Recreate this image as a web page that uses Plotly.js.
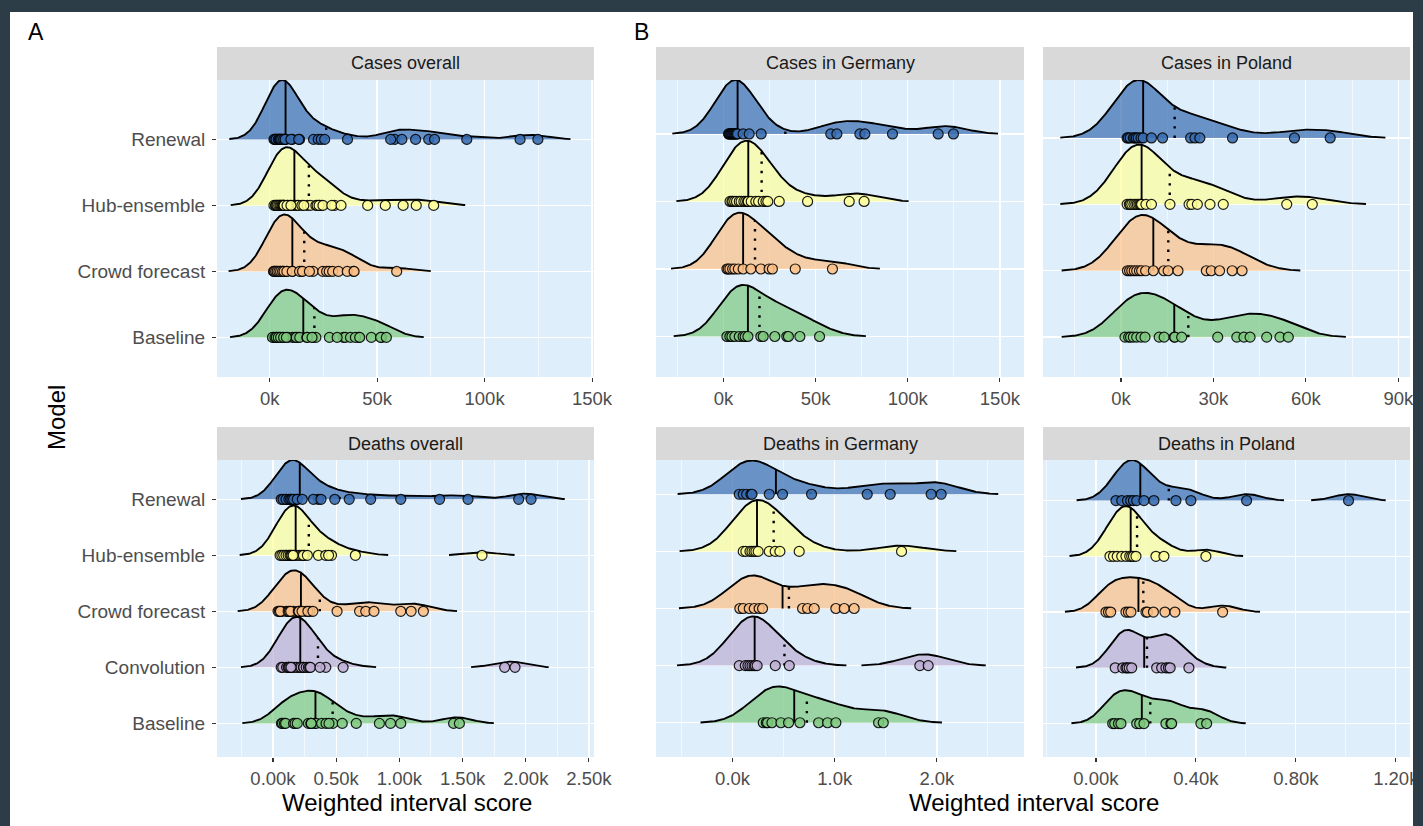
<!DOCTYPE html>
<html><head><meta charset="utf-8">
<script src="https://cdn.plot.ly/plotly-3.0.1.min.js"></script>
<style>html,body{margin:0;padding:0;background:#fff;}#chart{width:1423px;height:826px;}</style>
</head><body><div id="chart"></div>
<script>
// ---------------- data (weighted interval scores) ----------------
const casesModels  = ['Baseline', 'Crowd forecast', 'Hub-ensemble', 'Renewal'];              // bottom -> top
const deathsModels = ['Baseline', 'Convolution', 'Crowd forecast', 'Hub-ensemble', 'Renewal'];

const casesGermanyRenewal  = [2700, 3000, 3500, 4000, 4500, 5000, 5500, 6000, 6500, 7000, 7600, 10600, 13900, 20400, 58200, 61500, 74000, 76700, 91700, 116500, 124800];
const casesGermanyHub      = [3500, 4500, 5000, 6000, 7000, 8500, 9500, 11000, 12000, 13000, 13400, 15000, 17500, 19000, 21500, 23000, 24000, 30200, 45600, 68200, 76300];
const casesGermanyCrowd    = [1800, 2500, 3400, 4900, 6100, 8000, 10600, 14800, 20200, 24700, 26500, 38900, 59100];
const casesGermanyBaseline = [1800, 3400, 4500, 6100, 8500, 10600, 11700, 13200, 20200, 21500, 27800, 34300, 35200, 41400, 52100];

const casesPolandRenewal  = [2000, 2400, 3000, 4000, 4500, 5000, 5600, 6500, 7200, 9900, 13500, 22600, 24000, 25600, 36200, 56300, 67900];
const casesPolandHub      = [2000, 2700, 3000, 3500, 4200, 4800, 5300, 5800, 6200, 6500, 6700, 8100, 9900, 15900, 22100, 23000, 24800, 28900, 33200, 53800, 62100];
const casesPolandCrowd    = [2100, 2800, 3500, 4300, 5100, 6000, 6700, 8000, 10500, 13900, 15300, 18500, 27700, 29300, 32000, 36100, 39300];
const casesPolandBaseline = [1300, 2500, 3100, 4000, 5100, 6500, 7800, 12400, 14000, 17300, 17500, 19700, 31400, 37600, 39900, 41900, 47300, 51600, 54300];

const deathsGermanyRenewal    = [65, 104, 137, 179, 190, 359, 489, 773, 1318, 1543, 1944, 2042];
const deathsGermanyHub        = [104, 130, 170, 189, 210, 228, 250, 359, 417, 463, 652, 1654];
const deathsGermanyCrowd      = [71, 104, 163, 212, 260, 293, 685, 734, 799, 1011, 1093, 1190];
const deathsGermanyConvolution= [65, 124, 150, 170, 190, 210, 222, 240, 418, 555, 1833, 1915];
const deathsGermanyBaseline   = [300, 330, 342, 385, 473, 548, 659, 842, 930, 1011, 1429, 1475];

const deathsPolandRenewal     = [80, 103, 126, 139, 150, 163, 192, 232, 320, 380, 603, 1011];
const deathsPolandHub         = [56, 70, 85, 103, 120, 135, 143, 150, 160, 240, 272, 440];
const deathsPolandCrowd       = [40, 50, 59, 120, 130, 140, 200, 206, 230, 276, 316, 507];
const deathsPolandConvolution = [77, 107, 120, 125, 133, 143, 243, 263, 280, 290, 297, 372];
const deathsPolandBaseline    = [67, 75, 90, 100, 163, 175, 192, 280, 300, 303, 420, 443];

const casesTicks   = [0, 50000, 100000, 150000];
const casesTickTxt = ['0k', '50k', '100k', '150k'];
const casesPlTicks   = [0, 30000, 60000, 90000];
const casesPlTickTxt = ['0k', '30k', '60k', '90k'];
const deathsTicks    = [0, 500, 1000, 1500, 2000, 2500];
const deathsTickTxt  = ['0.00k', '0.50k', '1.00k', '1.50k', '2.00k', '2.50k'];
const deathsDeTicks  = [0, 1000, 2000];
const deathsDeTickTxt= ['0.0k', '1.0k', '2.0k'];
const deathsPlTicks  = [0, 400, 800, 1200];
const deathsPlTickTxt= ['0.00k', '0.40k', '0.80k', '1.20k'];

// ---------------- styling ----------------
const FONT = 'Liberation Sans, Arial, Helvetica, sans-serif';
const W = 1423, H = 826;
const modelColor = {
  'Renewal': '#386CB0', 'Hub-ensemble': '#FFFF99', 'Crowd forecast': '#FDC086',
  'Convolution': '#BEAED4', 'Baseline': '#7FC97F'
};
function rgba(hex, a) {
  const n = parseInt(hex.slice(1), 16);
  return 'rgba(' + (n >> 16 & 255) + ',' + (n >> 8 & 255) + ',' + (n & 255) + ',' + a + ')';
}

// ---------------- statistics ----------------
const mean = a => a.reduce((s, v) => s + v, 0) / a.length;
function sd(a) { const m = mean(a); return Math.sqrt(a.reduce((s, v) => s + (v - m) * (v - m), 0) / (a.length - 1)); }
function q7(s, p) { const h = (s.length - 1) * p, lo = Math.floor(h), hi = Math.ceil(h); return s[lo] + (h - lo) * (s[hi] - s[lo]); }
function median(a) { return q7(a.slice().sort((x, y) => x - y), 0.5); }
function bwNrd0(a) {
  const s = a.slice().sort((x, y) => x - y);
  let lo = Math.min(sd(a), (q7(s, 0.75) - q7(s, 0.25)) / 1.34);
  if (!(lo > 0)) lo = sd(a) || 1;
  return 0.9 * lo * Math.pow(a.length, -0.2);
}
function kdeAt(a, bw, x) {
  let s = 0;
  for (const v of a) { const z = (x - v) / bw; s += Math.exp(-0.5 * z * z); }
  return s / (a.length * bw * Math.sqrt(2 * Math.PI));
}

// ---------------- panel builder ----------------
const traces = [];
const layout = {
  width: W, height: H, margin: {l: 0, r: 0, t: 0, b: 0},
  paper_bgcolor: '#ffffff', plot_bgcolor: '#DEEEFB', showlegend: false,
  font: {family: FONT}, shapes: [], annotations: []
};

function buildPanel(n, title, models, series, px, py, xrange, ticks, tickTxt, minorTicks, showY) {
  const xa = 'x' + (n === 1 ? '' : n), ya = 'y' + (n === 1 ? '' : n);
  const bw = mean(series.map(bwNrd0));
  const all = [].concat(...series);
  const lo = Math.min(...all) - 3 * bw, hi = Math.max(...all) + 3 * bw;
  const N = 512, grid = [];
  for (let i = 0; i < N; i++) grid.push(lo + (hi - lo) * i / (N - 1));
  const dens = series.map(v => grid.map(x => kdeAt(v, bw, x)));
  const maxD = Math.max(...dens.map(d => Math.max(...d)));
  const sc = 0.9 / maxD, thr = 0.005 * maxD;
  let top = models.length - 1 + 0.6;
  const pts = [];
  series.forEach((vals, i) => {
    const col = modelColor[models[i]];
    const d = dens[i];
    top = Math.max(top, i + Math.max(...d) * sc);
    let seg = [];
    const segs = [];
    for (let k = 0; k < N; k++) {
      if (d[k] >= thr) seg.push(k); else if (seg.length) { segs.push(seg); seg = []; }
    }
    if (seg.length) segs.push(seg);
    segs.forEach(s => {
      const xs = s.map(k => grid[k]), ys = s.map(k => i + d[k] * sc);
      traces.push({type: 'scatter', mode: 'lines', xaxis: xa, yaxis: ya, hoverinfo: 'skip',
        x: xs.concat([xs[xs.length - 1], xs[0]]), y: ys.concat([i, i]),
        fill: 'toself', fillcolor: rgba(col, 0.7), line: {width: 0}});
      traces.push({type: 'scatter', mode: 'lines', xaxis: xa, yaxis: ya, hoverinfo: 'skip',
        x: xs, y: ys, line: {color: '#000', width: 1.9}});
    });
    const md = median(vals), mn = mean(vals);
    traces.push({type: 'scatter', mode: 'lines', xaxis: xa, yaxis: ya, hoverinfo: 'skip',
      x: [md, md], y: [i, i + kdeAt(vals, bw, md) * sc], line: {color: '#000', width: 1.9}});
    traces.push({type: 'scatter', mode: 'lines', xaxis: xa, yaxis: ya, hoverinfo: 'skip',
      x: [mn, mn], y: [i, i + kdeAt(vals, bw, mn) * sc], line: {color: '#000', width: 2.4, dash: '2.4px,7px'}});
    pts.push({type: 'scatter', mode: 'markers', xaxis: xa, yaxis: ya, hoverinfo: 'skip',
      x: vals, y: vals.map(() => i),
      marker: {size: 10, color: col, opacity: 0.88, line: {color: '#000', width: 1.2}}});
  });
  traces.push(...pts);

  const [x0, x1] = px, [y0, y1] = py;
  layout[xa === 'x' ? 'xaxis' : 'xaxis' + n] = {
    domain: [x0 / W, x1 / W], anchor: ya, range: xrange, tickmode: 'array', tickvals: ticks, ticktext: tickTxt,
    showgrid: true, gridcolor: '#ffffff', gridwidth: 1.3, zeroline: false, showline: false,
    minor: {tickmode: 'array', tickvals: minorTicks, showgrid: true, gridcolor: '#ffffff', gridwidth: 0.6, ticks: ''},
    ticks: 'outside', ticklen: 4, tickwidth: 1.1, tickcolor: '#333333',
    tickfont: {size: 18.5, color: '#4D4D4D', family: FONT}, ticklabelstandoff: 1, fixedrange: true
  };
  layout[ya === 'y' ? 'yaxis' : 'yaxis' + n] = {
    domain: [1 - y1 / H, 1 - y0 / H], anchor: xa, range: [-0.6, top],
    tickmode: 'array', tickvals: models.map((m, i) => i), ticktext: models, showticklabels: showY,
    showgrid: true, gridcolor: '#ffffff', gridwidth: 1.3, zeroline: false, showline: false,
    ticks: showY ? 'outside' : '', ticklen: 4, tickwidth: 1.1, tickcolor: '#333333',
    tickfont: {size: 19, color: '#4D4D4D', family: FONT}, ticklabelstandoff: 3, fixedrange: true
  };
  layout.shapes.push({type: 'rect', xref: 'paper', yref: 'paper', x0: x0 / W, x1: x1 / W,
    y0: 1 - y0 / H, y1: 1 - (y0 - 33) / H, fillcolor: '#D9D9D9', line: {width: 0}, layer: 'below'});
  layout.annotations.push({xref: 'paper', yref: 'paper', x: (x0 + x1) / 2 / W, y: 1 - (y0 - 16.5) / H,
    text: title, showarrow: false, xanchor: 'center', yanchor: 'middle',
    font: {size: 18, color: '#1A1A1A', family: FONT}});
}

const cx = [[217, 594], [656, 1024], [1043, 1410]];
const topY = [80, 377], botY = [460, 757];

buildPanel(1, 'Cases overall', casesModels,
  [casesGermanyBaseline.concat(casesPolandBaseline), casesGermanyCrowd.concat(casesPolandCrowd),
   casesGermanyHub.concat(casesPolandHub), casesGermanyRenewal.concat(casesPolandRenewal)],
  cx[0], topY, [-24500, 150900], casesTicks, casesTickTxt, [25000, 75000, 125000], true);
buildPanel(2, 'Cases in Germany', casesModels,
  [casesGermanyBaseline, casesGermanyCrowd, casesGermanyHub, casesGermanyRenewal],
  cx[1], topY, [-36700, 163100], casesTicks, casesTickTxt, [-25000, 25000, 75000, 125000], false);
buildPanel(3, 'Cases in Poland', casesModels,
  [casesPolandBaseline, casesPolandCrowd, casesPolandHub, casesPolandRenewal],
  cx[2], topY, [-25300, 93800], casesPlTicks, casesPlTickTxt, [-15000, 15000, 45000, 75000], false);
buildPanel(4, 'Deaths overall', deathsModels,
  [deathsGermanyBaseline.concat(deathsPolandBaseline), deathsGermanyConvolution.concat(deathsPolandConvolution),
   deathsGermanyCrowd.concat(deathsPolandCrowd), deathsGermanyHub.concat(deathsPolandHub),
   deathsGermanyRenewal.concat(deathsPolandRenewal)],
  cx[0], botY, [-443, 2540], deathsTicks, deathsTickTxt, [-250, 250, 750, 1250, 1750, 2250], true);
buildPanel(5, 'Deaths in Germany', deathsModels,
  [deathsGermanyBaseline, deathsGermanyConvolution, deathsGermanyCrowd, deathsGermanyHub, deathsGermanyRenewal],
  cx[1], botY, [-750, 2853], deathsDeTicks, deathsDeTickTxt, [-500, 500, 1500, 2500], false);
buildPanel(6, 'Deaths in Poland', deathsModels,
  [deathsPolandBaseline, deathsPolandConvolution, deathsPolandCrowd, deathsPolandHub, deathsPolandRenewal],
  cx[2], botY, [-212, 1257], deathsPlTicks, deathsPlTickTxt, [-200, 200, 600, 1000], false);

const ann = (x, y, text, size, extra) => layout.annotations.push(Object.assign({xref: 'paper', yref: 'paper',
  x: x / W, y: 1 - y / H, text, showarrow: false, xanchor: 'center', yanchor: 'middle',
  font: {size, color: '#000', family: FONT}}, extra || {}));
ann(36, 32, 'A', 23);
ann(641, 32, 'B', 23);
ann(57, 418, 'Model', 24, {textangle: -90});
ann(407, 802, 'Weighted interval score', 24);
ann(1034, 802, 'Weighted interval score', 24);

const frame = '#2D3D48';
[[0, 0, 10, H], [0, 0, W, 12], [1413, 0, W, H]].forEach(r => layout.shapes.push({type: 'rect', xref: 'paper', yref: 'paper',
  x0: r[0] / W, x1: r[2] / W, y0: 1 - r[3] / H, y1: 1 - r[1] / H, fillcolor: frame, line: {width: 0}, layer: 'above'}));

Plotly.newPlot('chart', traces, layout, {staticPlot: true, displayModeBar: false});
</script></body></html>
